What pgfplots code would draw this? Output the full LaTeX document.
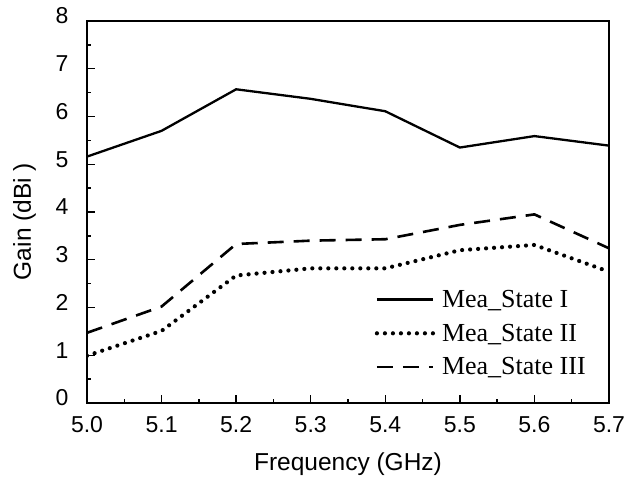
\documentclass[border=0pt]{standalone}
\usepackage{fontspec}
\setmainfont{Liberation Sans}
\newfontfamily\legfont{Liberation Serif}
\usepackage{pgfplots}
\pgfplotsset{compat=1.18}
\begin{document}
\begin{tikzpicture}
\path[use as bounding box] (-87pt,-77pt) rectangle (549pt,403pt);
\begin{axis}[
  at={(0pt,0pt)}, anchor=south west,
  width=522pt, height=382pt, scale only axis,
  xmin=5.0, xmax=5.7, ymin=0, ymax=8,
  xtick={5.0,5.1,5.2,5.3,5.4,5.5,5.6,5.7},
  xticklabels={5.0,5.1,5.2,5.3,5.4,5.5,5.6,5.7},
  ytick={0,1,2,3,4,5,6,7,8},
  minor x tick num=1, minor y tick num=1,
  xtick pos=bottom, ytick pos=left,
  tick align=inside,
  major tick length=8pt, minor tick length=4pt,
  every tick/.style={line width=1.3pt, black},
  axis line style={line width=2pt},
  /pgf/number format/assume math mode=true,
  ticklabel style={font=\fontsize{23}{26}\selectfont},
  xticklabel style={yshift=-10pt},
  yticklabel style={yshift=5pt, xshift=-15pt},
  xlabel={Frequency (GHz)},
  ylabel={Gain (dBi )},
  label style={font=\fontsize{24.5}{28}\selectfont},
  xlabel style={at={(axis description cs:0.5,-0.16)}, anchor=center},
  ylabel style={at={(axis description cs:-0.1195,0.475)}, anchor=center, rotate=0},
  legend style={draw=none, fill=none, at={(axis description cs:0.551,0.301)}, anchor=north west,
    font=\legfont\fontsize{26}{30}\selectfont, row sep=11pt, inner sep=0pt,
    /tikz/every odd column/.append style={column sep=5pt}},
  legend cell align=left,
  legend image code/.code={\draw[#1] (0pt,0pt) -- (56pt,0pt);},
]
\addplot[black, line width=2.3pt] coordinates {
 (5.0,5.16) (5.1,5.70) (5.2,6.57) (5.3,6.37) (5.4,6.11) (5.5,5.35) (5.6,5.59) (5.7,5.39)};
\addlegendentry{Mea\_State I}
\addplot[black, line width=4.2pt, line cap=round, dash pattern=on 0pt off 8pt] coordinates {
 (5.0,0.99) (5.1,1.51) (5.2,2.67) (5.3,2.82) (5.4,2.82) (5.5,3.20) (5.6,3.31) (5.7,2.75)};
\addlegendentry{Mea\_State II}
\addplot[black, line width=2.6pt, dash pattern=on 16pt off 10pt] coordinates {
 (5.0,1.47) (5.1,2.02) (5.2,3.33) (5.3,3.40) (5.4,3.43) (5.5,3.73) (5.6,3.95) (5.7,3.24)};
\addlegendentry{Mea\_State III}
\end{axis}
\end{tikzpicture}
\end{document}
